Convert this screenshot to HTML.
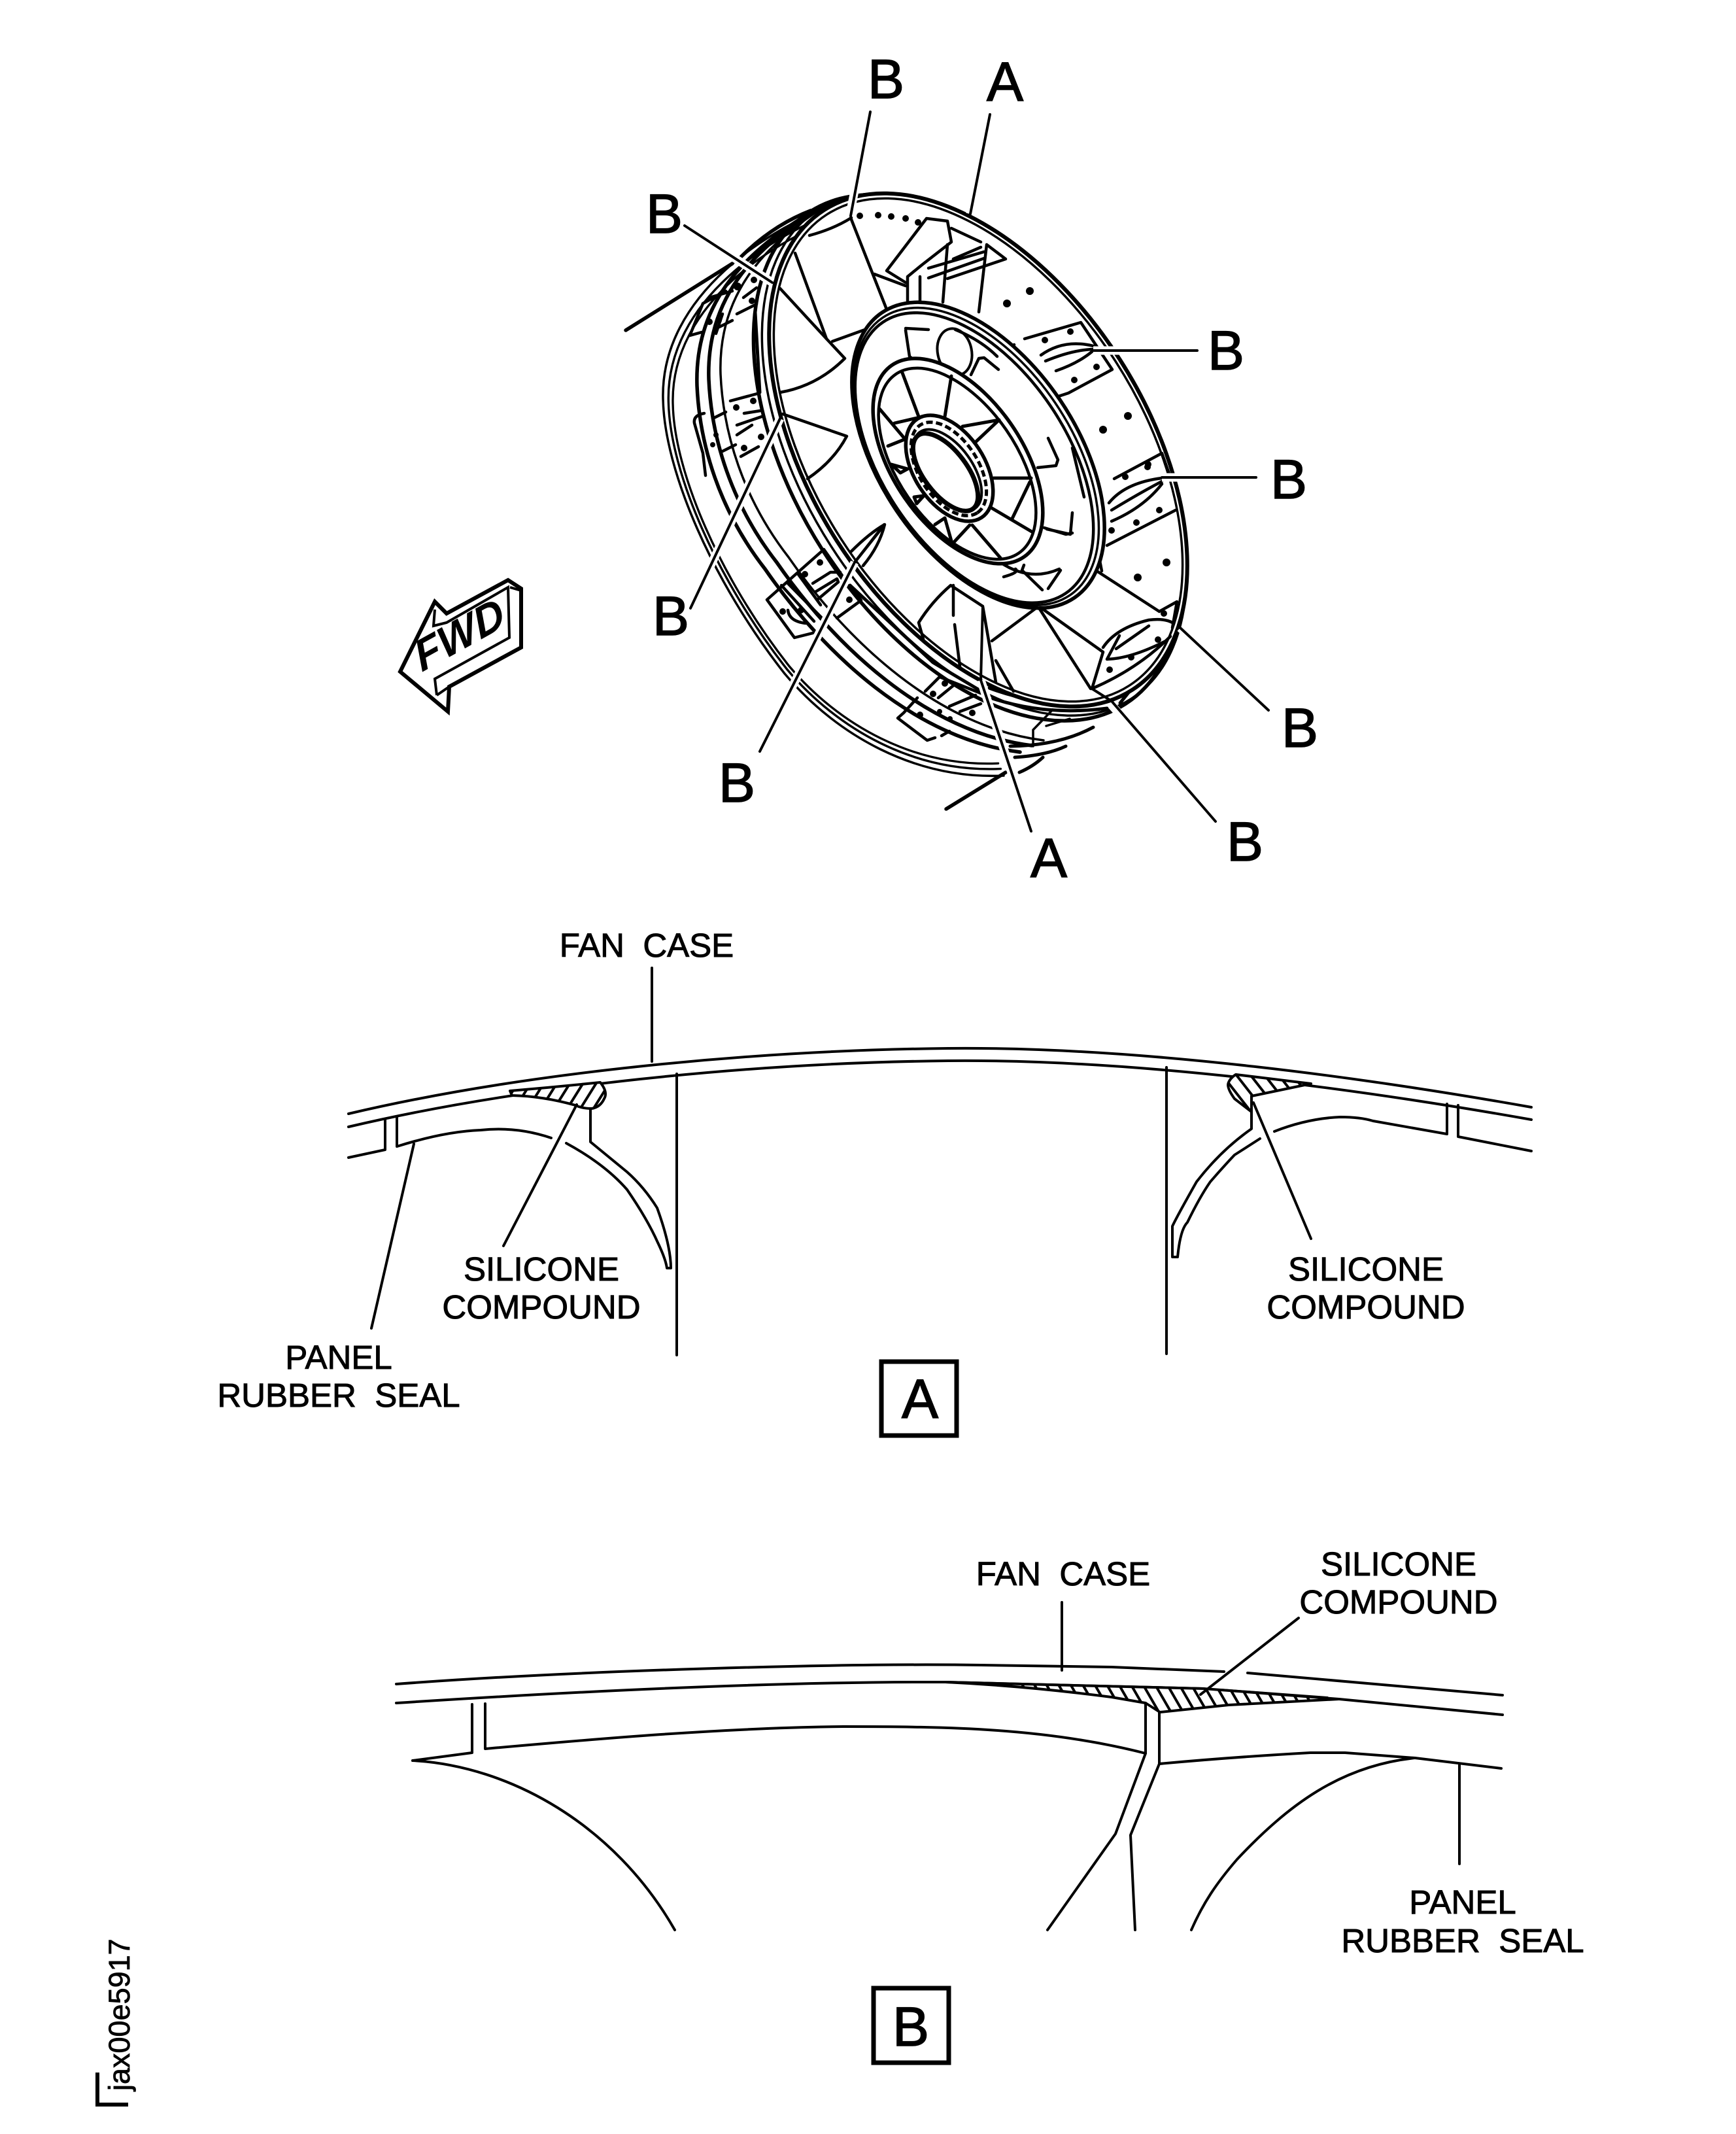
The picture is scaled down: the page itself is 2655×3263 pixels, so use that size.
<!DOCTYPE html>
<html><head><meta charset="utf-8"><style>
html,body{margin:0;padding:0;background:#fff}
svg{display:block}
text{font-family:"Liberation Sans",Arial,sans-serif;fill:#000;white-space:pre;stroke:#000}
.L{font-size:84px;text-anchor:middle;stroke-width:1.5}
.S{font-size:51px;text-anchor:middle;stroke-width:1}
</style></head><body>
<svg xmlns="http://www.w3.org/2000/svg" width="2655" height="3263" viewBox="0 0 2655 3263">
<defs>
<pattern id="hA" width="17" height="17" patternUnits="userSpaceOnUse" patternTransform="rotate(32)"><rect width="17" height="17" fill="#fff"/><rect width="4" height="17" fill="#000"/></pattern>
<pattern id="hC" width="17" height="17" patternUnits="userSpaceOnUse" patternTransform="rotate(-38)"><rect width="17" height="17" fill="#fff"/><rect width="4" height="17" fill="#000"/></pattern>
<pattern id="hB" width="16" height="16" patternUnits="userSpaceOnUse" patternTransform="rotate(-30)"><rect width="16" height="16" fill="#fff"/><rect width="4" height="16" fill="#000"/></pattern>
<path id="b1" d="M1290 308C1180 345 1010 450 1014 610C1016 720 1090 890 1200 1030C1280 1125 1400 1192 1535 1186"/>
<path id="m1" d="M1240 325C1130 390 1062 470 1066 590C1070 680 1100 780 1170 870C1260 1000 1400 1130 1560 1150"/>
</defs>

<g fill="none" stroke="#000" stroke-width="3.5" stroke-linecap="round" stroke-linejoin="round">
<!-- back rings -->
<use href="#b1"/>
<use href="#b1" transform="translate(1348 769) scale(.975) translate(-1348 -769)"/>
<use href="#b1" transform="translate(1348 769) scale(.955) translate(-1348 -769)"/>
<use href="#m1" stroke-width="5.5"/>
<use href="#m1" stroke-width="5.5" transform="translate(18 -10)"/>
<use href="#m1" transform="translate(36 -18)"/>
<path stroke-width="5.5" d="M957 505L1120 403M1240 322Q1180 345 1130 396"/>
<path stroke-width="5.5" d="M1447 1237L1538 1181"/>
<ellipse cx="1480" cy="700" rx="447" ry="263" transform="rotate(57.3 1480 700)" stroke-width="5.5"/>
<ellipse cx="1490" cy="695" rx="444" ry="260" transform="rotate(57.3 1490 695)"/>
<path stroke-width="5" d="M1501 1057L1427 1013L1300 895M1518 1068Q1600 1095 1693 1083M1513 1052Q1600 1085 1697 1072M1545 1141Q1620 1140 1672 1112M1552 1158Q1600 1155 1630 1141M1559 1181Q1580 1172 1595 1158M1713 1075L1800 967"/>
<path d="M1580 1116V1141M1580 1116L1610 1085M1600 1110L1636 1099"/>

<!-- front disc -->
<ellipse cx="1496" cy="688" rx="436" ry="257" transform="rotate(57.3 1496 688)" fill="#fff" stroke-width="6"/>
<ellipse cx="1496" cy="688" rx="428" ry="250" transform="rotate(57.3 1496 688)" stroke-width="3.5"/>

<!-- face spokes -->
<g stroke-width="4.5">
<path d="M1301 333L1356 473M1238 360Q1275 350 1302 333"/>
<path d="M1216 387L1264 518L1292 548Q1250 590 1193 600"/>
<path d="M1193 441L1264 518M1273 522L1334 500"/>
<path d="M1197 633L1295 667Q1275 705 1235 732"/>
<path d="M1302 843Q1330 815 1353 802Q1345 835 1320 865M1307 860L1353 802"/>
<path d="M1454 895L1503 927L1523 1043M1454 895Q1425 920 1405 952L1412 977M1458 895L1458 941M1460 955L1468 1019"/>
<path d="M1517 980L1587 928M1523 1010L1550 1057"/>
<path d="M1588 928L1668 1053M1593 930L1687 997L1670 1053M1668 867L1773 935M1680 847L1685 873"/>
</g>
<!-- top bracket -->
<g stroke-width="4.5">
<path d="M1417 334L1449 338L1455 370L1410 405L1388 423M1417 334L1356 414L1385 432M1388 423V460M1407 423V460M1449 374L1442 462M1509 374L1538 396L1449 426M1509 374L1497 477M1455 349L1500 370M1337 419L1385 437M1458 396L1500 378M1420 410L1505 385M1420 425L1505 395"/>
</g>
<g fill="#000" stroke="none">
<circle cx="1315" cy="330" r="5"/><circle cx="1343" cy="329" r="5"/><circle cx="1363" cy="331" r="5"/><circle cx="1385" cy="334" r="5"/><circle cx="1404" cy="340" r="5"/>
<circle cx="1540" cy="464" r="6"/><circle cx="1575" cy="445" r="6"/><circle cx="1725" cy="636" r="6"/><circle cx="1687" cy="657" r="6"/><circle cx="1784" cy="860" r="6"/><circle cx="1740" cy="883" r="6"/>
<circle cx="1598" cy="520" r="5"/><circle cx="1637" cy="507" r="5"/><circle cx="1560" cy="550" r="5"/><circle cx="1554" cy="570" r="5"/><circle cx="1570" cy="592" r="5"/><circle cx="1599" cy="594" r="5"/><circle cx="1643" cy="581" r="5"/><circle cx="1677" cy="561" r="5"/>
<circle cx="1755" cy="714" r="5"/><circle cx="1721" cy="729" r="5"/><circle cx="1756" cy="710" r="5"/><circle cx="1773" cy="780" r="5"/><circle cx="1738" cy="799" r="5"/><circle cx="1700" cy="811" r="5"/><circle cx="1668" cy="771" r="5"/>
<circle cx="1780" cy="938" r="5"/><circle cx="1771" cy="978" r="5"/><circle cx="1730" cy="1005" r="5"/><circle cx="1697" cy="1024" r="5"/>
<circle cx="1254" cy="860" r="5"/><circle cx="1231" cy="878" r="5"/><circle cx="1299" cy="917" r="5"/><circle cx="1197" cy="935" r="5"/><circle cx="1225" cy="933" r="5"/>
<circle cx="1445" cy="1045" r="5"/><circle cx="1427" cy="1061" r="5"/><circle cx="1407" cy="1093" r="5"/><circle cx="1487" cy="1090" r="5"/><circle cx="1437" cy="1088" r="4"/><circle cx="1453" cy="1099" r="4"/>
<circle cx="1126" cy="623" r="5"/><circle cx="1152" cy="613" r="5"/><circle cx="1164" cy="668" r="5"/><circle cx="1138" cy="685" r="5"/><circle cx="1153" cy="428" r="5"/><circle cx="1150" cy="460" r="5"/><circle cx="1128" cy="438" r="6"/><circle cx="1100" cy="490" r="4"/><circle cx="1085" cy="492" r="5"/><circle cx="1090" cy="680" r="4"/><circle cx="1095" cy="665" r="4"/>
</g>
<!-- upper right panel -->
<g stroke-width="4.5">
<path d="M1551 527L1522 550L1579 619L1634 601L1701 565L1653 493L1567 518"/>
<path d="M1592 543Q1627 518 1672 529M1599 552Q1640 535 1672 534M1615 567Q1650 555 1672 536M1576 560Q1570 580 1590 582"/>
<path d="M1704 732L1777 693L1790 730M1798 780L1693 834"/>
<path d="M1696 769Q1721 738 1777 731M1700 780Q1741 755 1777 736M1700 797Q1749 776 1777 740"/>
<!-- lower right lens -->
<path d="M1687 990Q1707 960 1757 948Q1780 945 1793 952M1707 992L1757 957M1693 1008Q1730 1007 1783 980M1693 1008L1712 972M1670 1053Q1740 1023 1790 973M1773 935L1800 920L1793 960"/>
<!-- lower left panel -->
<path d="M1260 840L1173 917L1215 975L1243 968M1260 840L1288 880M1243 892L1270 875L1285 875M1247 905L1280 885L1282 890L1250 917M1205 892L1257 945M1220 877L1255 925M1195 895L1245 950M1205 933Q1207 950 1232 953M1300 895L1317 918L1280 945"/>
<!-- bottom panel -->
<path d="M1403 1067L1382 1090L1373 1098L1418 1132L1430 1128M1415 1057L1437 1035M1435 1067L1462 1045M1452 1080L1492 1063M1468 1088L1500 1076M1440 1125L1452 1118M1437 1035L1500 1060"/>
<!-- left panels -->
<path d="M1075 464L1055 513L1073 508M1075 464L1110 445M1127 480L1157 465M1137 455L1157 440M1105 480L1095 510M1085 455L1120 445M1100 500L1120 490"/>
<path d="M1117 613L1158 602M1077 632Q1060 635 1062 647L1075 693L1079 727M1138 632L1163 628M1127 650L1165 637M1127 665L1150 650M1133 698L1160 683M1105 690L1125 680M1090 640L1110 630"/>
<path d="M1155 478L1162 600" stroke-width="5"/>
</g>

<!-- hub rings -->
<ellipse cx="1496" cy="696" rx="263" ry="151" transform="rotate(56 1496 696)" fill="#fff" stroke-width="5.5"/>
<ellipse cx="1493" cy="698" rx="256" ry="146" transform="rotate(56 1493 698)"/>
<ellipse cx="1490" cy="700" rx="250" ry="141" transform="rotate(56 1490 700)" stroke-width="4.5"/>
<path stroke-width="4.5" d="M1385 502L1420 504M1385 505L1391 545L1400 552M1485 573L1497 548L1505 547L1527 565M1461 504Q1500 520 1525 545M1603 670L1618 703L1615 712L1587 715M1597 807L1630 817L1640 815M1640 685L1658 760M1640 784L1637 817L1601 809M1566 864L1563 872L1594 902M1622 872L1603 900"/>
<path stroke-width="4.5" d="M1530 860Q1575 890 1620 870M1535 882Q1560 875 1553 870"/>
<ellipse cx="1460" cy="538" rx="26" ry="36" transform="rotate(-12 1460 538)" stroke-width="4"/>
<!-- middle ring -->
<ellipse cx="1465" cy="705" rx="178" ry="99" transform="rotate(55.4 1465 705)" fill="#fff" stroke-width="5.5"/>
<ellipse cx="1464" cy="709" rx="166" ry="91" transform="rotate(55.4 1464 709)" stroke-width="4.5"/>
<!-- inner spokes -->
<path stroke-width="5" d="M1380 570L1405 637M1455 575L1445 637M1345 625L1383 670M1368 647L1407 638M1358 682L1383 672M1472 652L1528 642L1493 675M1520 731L1577 731M1575 737L1548 793M1517 777L1578 813M1487 803L1530 853M1483 803L1458 830M1445 792L1430 802M1445 792L1455 827M1363 710L1388 717L1377 723L1363 710M1398 760L1413 758L1402 770L1398 760"/>
<!-- lattice hub -->
<ellipse cx="1452" cy="716" rx="90" ry="54" transform="rotate(57 1452 716)" fill="#fff" stroke-width="5.5"/>
<ellipse cx="1451" cy="717" rx="80" ry="45" transform="rotate(57 1451 717)" stroke-width="5" stroke-dasharray="10 5" stroke-linecap="butt"/>
<ellipse cx="1449" cy="719" rx="72" ry="38" transform="rotate(54 1449 719)" fill="#fff" stroke-width="4"/>
<ellipse cx="1446" cy="722" rx="70" ry="33" transform="rotate(53 1446 722)" fill="#fff" stroke-width="7"/>

<!-- leaders with halo -->
<g stroke="#fff" stroke-width="13" stroke-linecap="butt">
<path d="M1056 930L1193 640M1162 1149L1307 860M1577 1271L1500 1040M1859 1256L1700 1078M1940 1086L1805 960M1921 730L1777 730M1831 536L1672 536M1047 345L1181 432M1331 171L1301 322M1514 175L1484 327"/>
</g>
<g stroke-width="4">
<path d="M1056 930L1193 640M1162 1149L1307 860L1352 802M1577 1271L1500 1040L1503 927M1859 1256L1700 1072L1670 1053M1940 1086L1805 960M1921 730L1777 730M1831 536L1672 536M1047 345L1181 432M1331 171L1301 330M1514 175L1484 327"/>
</g>
</g>

<!-- big labels -->
<text class="L" x="1355" y="150">B</text>
<text class="L" x="1537" y="154">A</text>
<text class="L" x="1016" y="356">B</text>
<text class="L" x="1875" y="565">B</text>
<text class="L" x="1971" y="762">B</text>
<text class="L" x="1026" y="971">B</text>
<text class="L" x="1988" y="1142">B</text>
<text class="L" x="1127" y="1226">B</text>
<text class="L" x="1904" y="1316">B</text>
<text class="L" x="1604" y="1341">A</text>

<!-- FWD arrow -->
<g fill="#fff" stroke="#000" stroke-linejoin="miter">
<path stroke-width="6" d="M612 1027L665 920L683 938L777 887L797 900V990L687 1050L685 1088Z"/>
<path stroke-width="4" fill="none" d="M665 932L663 957L683 952L777 898L779 975L665 1038L668 1063M780 898L797 903M687 1050L668 1063"/>
</g>
<text transform="translate(645 1028) rotate(-29) skewX(-8)" style="font-size:66px;font-weight:bold;font-style:italic;stroke-width:0">FWD</text>

<!-- Section A -->
<g fill="none" stroke="#000" stroke-width="4" stroke-linecap="round" stroke-linejoin="round">
<path d="M533 1703C800 1640 1150 1606 1450 1603C1750 1600 2100 1650 2342 1693"/>
<path d="M533 1723C800 1660 1150 1625 1450 1622C1750 1619 2100 1669 2342 1712"/>
<!-- left side -->
<path d="M533 1770L589 1758V1712"/>
<path d="M607 1707V1753Q680 1730 735 1728Q790 1722 843 1740"/>
<path d="M866 1748Q925 1780 959 1819Q990 1864 1006 1900Q1018 1925 1020 1939L1026 1939Q1026 1905 1005 1847Q985 1815 959 1792L903 1746V1696"/>
<path fill="url(#hA)" d="M780 1668Q850 1662 918 1655Q930 1670 924 1680Q918 1693 905 1695Q890 1695 880 1690Q830 1676 783 1675Z"/>
<!-- right side -->
<path fill="url(#hC)" d="M1890 1643L2005 1657L1914 1676L1914 1700L1888 1680Q1875 1662 1879 1655Q1882 1648 1890 1643Z"/>
<path d="M1914 1676V1726Q1867 1759 1830 1807Q1800 1860 1793 1875L1793 1922H1801Q1805 1880 1816 1869Q1835 1830 1851 1807Q1870 1785 1888 1766L1927 1741"/>
<path d="M1949 1730Q2000 1710 2050 1708Q2080 1708 2100 1714L2213 1734V1688"/>
<path d="M2230 1690V1738L2342 1760"/>
<!-- verticals and leaders -->
<path d="M1035 1642V2072M1784 1632V2070M997 1480V1623M882 1689L770 1905M633 1749L568 2031M1917 1686L2005 1894"/>
</g>
<text class="S" x="989" y="1463" xml:space="preserve">FAN  CASE</text>
<text class="S" x="828" y="1958">SILICONE</text>
<text class="S" x="828" y="2016">COMPOUND</text>
<text class="S" x="2089" y="1958">SILICONE</text>
<text class="S" x="2089" y="2016">COMPOUND</text>
<text class="S" x="518" y="2093">PANEL</text>
<text class="S" x="518" y="2151" xml:space="preserve">RUBBER  SEAL</text>
<rect x="1348" y="2082" width="115" height="113" fill="#fff" stroke="#000" stroke-width="7"/>
<text class="L" x="1407" y="2168">A</text>

<!-- Section B -->
<g fill="none" stroke="#000" stroke-width="4" stroke-linecap="round" stroke-linejoin="round">
<path d="M606 2575C900 2553 1300 2543 1500 2546L1700 2549L1872 2556M1908 2558L2298 2592"/>
<path d="M606 2604C900 2585 1200 2571 1446 2572L1841 2582M1867 2584L2030 2596"/>
<path fill="url(#hB)" d="M1446 2572L1841 2582L1867 2584L2048 2598L1879 2607L1774 2618L1752 2604L1700 2595Q1570 2578 1446 2572Z"/>
<path d="M2048 2598L2298 2622"/>
<path d="M1752 2604V2681C1600 2642 1450 2640 1290 2640C1100 2642 900 2660 742 2674V2605M722 2606V2680L631 2692"/>
<path d="M1773 2618V2697Q1880 2687 2004 2680L2057 2680L2164 2688L2296 2704"/>
<path d="M631 2692C780 2700 940 2790 1032 2951"/>
<path d="M2164 2688C2050 2700 1970 2760 1892 2843C1860 2880 1840 2910 1822 2951"/>
<path d="M1752 2681L1706 2804L1602 2951M1773 2697L1729 2806L1736 2951"/>
<path d="M2232 2699V2850M1986 2474L1836 2591M1624 2450V2554"/>
</g>
<text class="S" x="1626" y="2424" xml:space="preserve">FAN  CASE</text>
<text class="S" x="2139" y="2409">SILICONE</text>
<text class="S" x="2139" y="2467">COMPOUND</text>
<text class="S" x="2237" y="2926">PANEL</text>
<text class="S" x="2237" y="2985" xml:space="preserve">RUBBER  SEAL</text>
<rect x="1336" y="3040" width="115" height="114" fill="#fff" stroke="#000" stroke-width="7"/>
<text class="L" x="1393" y="3128">B</text>

<!-- code -->
<text transform="translate(198 3197) rotate(-90)" style="font-size:45px;stroke-width:.8">jax00e5917</text>
<path d="M149 3169V3218H196" fill="none" stroke="#000" stroke-width="6"/>
</svg>
</body></html>
